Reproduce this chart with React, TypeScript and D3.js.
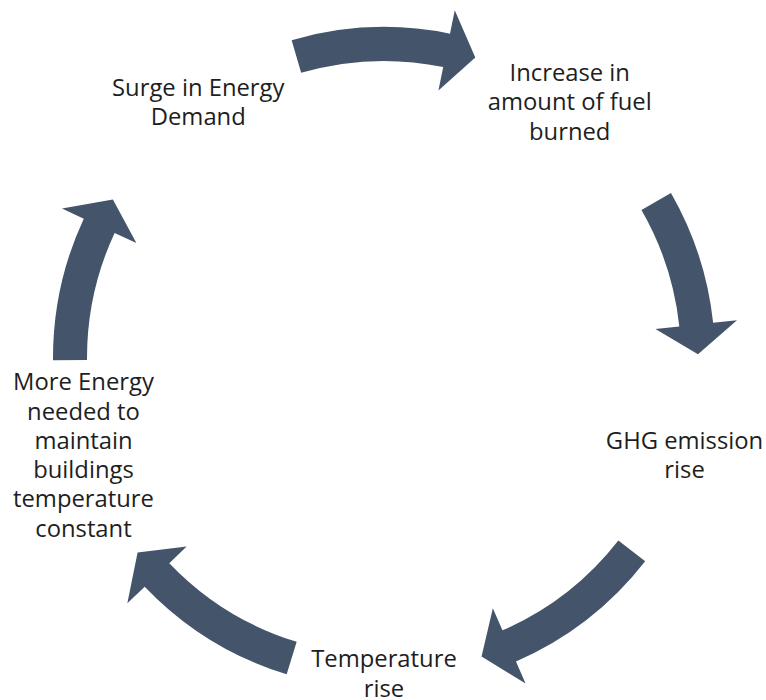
import React from "react";
import * as d3 from "d3";

// Node labels (clockwise, starting at top-left)
const nodeLabels: string[][] = [
  ["Surge in Energy", "Demand"],
  ["Increase in", "amount of fuel", "burned"],
  ["GHG emission", "rise"],
  ["Temperature", "rise"],
  ["More Energy", "needed to", "maintain", "buildings", "temperature", "constant"],
];
// node angular positions (degrees, clockwise from top)
const nodeAngles = [-36, 36, 108, 180, 252];
// arrow spans between consecutive nodes (degrees, clockwise from top)
const arrowStart = [-16.2, 60.1, 127.9, 197.1, 269.6];
const arrowEnd = [16.9, 89.3, 161.9, 231.7, 300.3];

const W = 766;
const H = 700;
const cx = 384;
const cy = 358;
const R = 316;
const rMid = 314;
const bandHalf = 17;
const headHalf = 41;
const headLenDeg = 5.4;
const color = "#44546A";
const lineH = 29.3;
const fontSize = 23.8;

const rad = d3.scaleLinear().domain([0, 360]).range([0, 2 * Math.PI]);
const pt = (r: number, deg: number): [number, number] => [
  cx + r * Math.sin(rad(deg)),
  cy - r * Math.cos(rad(deg)),
];

function arrowPath(s: number, e: number): string {
  const p = d3.path();
  const b = e - headLenDeg;
  const rOut = rMid + bandHalf;
  const rIn = rMid - bandHalf;
  const a = (deg: number) => rad(deg) - Math.PI / 2;
  const [x0, y0] = pt(rOut, s);
  p.moveTo(x0, y0);
  p.arc(cx, cy, rOut, a(s), a(b), false);
  const ho = pt(rMid + headHalf, b);
  p.lineTo(ho[0], ho[1]);
  const tip = pt(rMid, e);
  p.lineTo(tip[0], tip[1]);
  const hi = pt(rMid - headHalf, b);
  p.lineTo(hi[0], hi[1]);
  const bi = pt(rIn, b);
  p.lineTo(bi[0], bi[1]);
  p.arc(cx, cy, rIn, a(b), a(s), true);
  p.closePath();
  return p.toString();
}

export default function App() {
  return (
    <svg
      width={W}
      height={H}
      viewBox={`0 0 ${W} ${H}`}
      style={{ position: "absolute", left: 0, top: 0, background: "#fff" }}
    >
      <rect width={W} height={H} fill="#fff" />
      {arrowStart.map((s, i) => (
        <path key={"a" + i} d={arrowPath(s, arrowEnd[i])} fill={color} />
      ))}
      {nodeLabels.map((lines, i) => {
        const [x, y] = pt(R, nodeAngles[i]);
        const y0 = y - ((lines.length - 1) * lineH) / 2;
        return (
          <text
            key={"t" + i}
            x={x}
            textAnchor="middle"
            fontFamily="'Open Sans', Lato, sans-serif"
            fontSize={fontSize}
            fill="#1e1e1e"
          >
            {lines.map((ln, j) => (
              <tspan key={j} x={x} y={y0 + j * lineH} dy="0.33em">
                {ln}
              </tspan>
            ))}
          </text>
        );
      })}
    </svg>
  );
}
